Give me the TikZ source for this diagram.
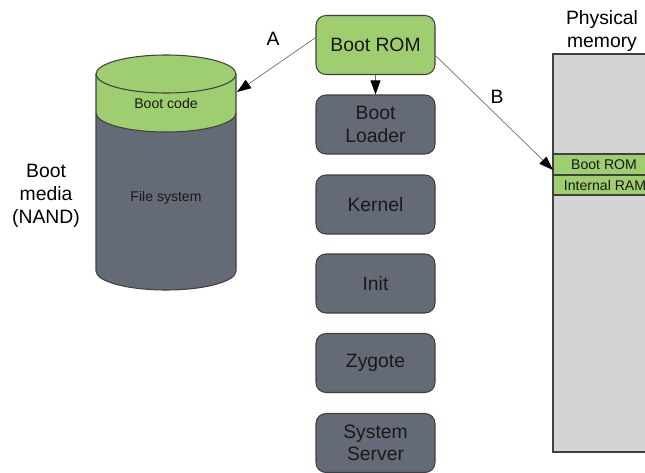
\documentclass[tikz,border=0pt]{standalone}
\usepackage{fontspec}
\setmainfont{Liberation Sans}
\usetikzlibrary{arrows.meta}

\definecolor{romgreen}{RGB}{158,206,112}
\definecolor{stagegray}{RGB}{100,106,118}
\definecolor{memgray}{RGB}{212,212,212}
\definecolor{edgegray}{RGB}{64,64,64}
\definecolor{wiregray}{RGB}{110,110,110}

\begin{document}
\begin{tikzpicture}[x=0.03cm, y=-0.03cm,
    stage/.style={draw=edgegray, line width=0.9pt, rounded corners=0.3cm,
      minimum width=3.57cm, minimum height=1.77cm, align=center,
      font=\fontsize{16.5}{19}\selectfont, text=black!90},
    rom/.style={stage, fill=romgreen},
    os/.style={stage, fill=stagegray},
    caption/.style={align=center, font=\fontsize{16.5}{19.5}\selectfont},
    small/.style={font=\fontsize{12}{13}\selectfont, text=black!90},
    wire/.style={draw=wiregray, line width=0.6pt,
      -{Triangle[length=12pt, width=8.5pt, color=black]}}]
    \useasboundingbox (0,0) rectangle (645,472);
    \clip (0,0) rectangle (645,472);

    % boot media (cylinder)
    \fill[stagegray] (96,113) arc[start angle=180, end angle=0, x radius=70, y radius=19]
      -- (236,271) arc[start angle=0, end angle=180, x radius=70, y radius=19] -- cycle;
    \fill[romgreen] (96,74) -- (96,113) arc[start angle=180, end angle=0, x radius=70, y radius=19]
      -- (236,74) -- cycle;
    \draw[edgegray, line width=0.9pt] (96,74) -- (96,271)
      arc[start angle=180, end angle=0, x radius=70, y radius=19] -- (236,74);
    \draw[edgegray, line width=0.9pt] (96,113) arc[start angle=180, end angle=0, x radius=70, y radius=19];
    \draw[edgegray, line width=0.9pt, fill=romgreen] (166,74) ellipse[x radius=70, y radius=19];
    \node (bootcode) at (166,103) [small] {Boot code};
    \node (filesys) at (166,198) [small] {File system};
    \coordinate (disk) at (237,92);
    \node (media) at (46,196) [caption] {Boot\\media\\(NAND)};

    % physical memory
    \draw[edgegray, line width=0.9pt, fill=memgray] (553,54) rectangle (660,452);
    \draw[edgegray, line width=0.9pt, fill=romgreen] (553,154) rectangle (660,175);
    \draw[edgegray, line width=0.9pt, fill=romgreen] (553,175) rectangle (660,195);
    \node (memrom) at (604,164.5) [small] {Boot ROM};
    \node (memram) at (605,185) [small] {Internal RAM};
    \coordinate (rombank) at (553,170);
    \node (physmem) at (602,31) [caption] {Physical\\memory};

    % boot sequence
    \node (bootrom) at (375.5,45) [rom] {Boot ROM};
    \node (bootloader) at (375.5,124.5) [os] {Boot\\Loader};
    \node (kernel) at (375.5,204.5) [os] {Kernel};
    \node (init) at (375.5,283.5) [os] {Init};
    \node (zygote) at (375.5,363) [os] {Zygote};
    \node (sysserver) at (375.5,443) [os] {System\\Server};

    \draw[wire] (bootrom) -- (bootloader);
    \draw[wire] (bootrom.173) -- (disk);
    \draw[wire] (bootrom.-10) -- (rombank);
    \node (labela) at (273,39) [caption] {A};
    \node (labelb) at (497,97) [caption] {B};
\end{tikzpicture}
\end{document}
